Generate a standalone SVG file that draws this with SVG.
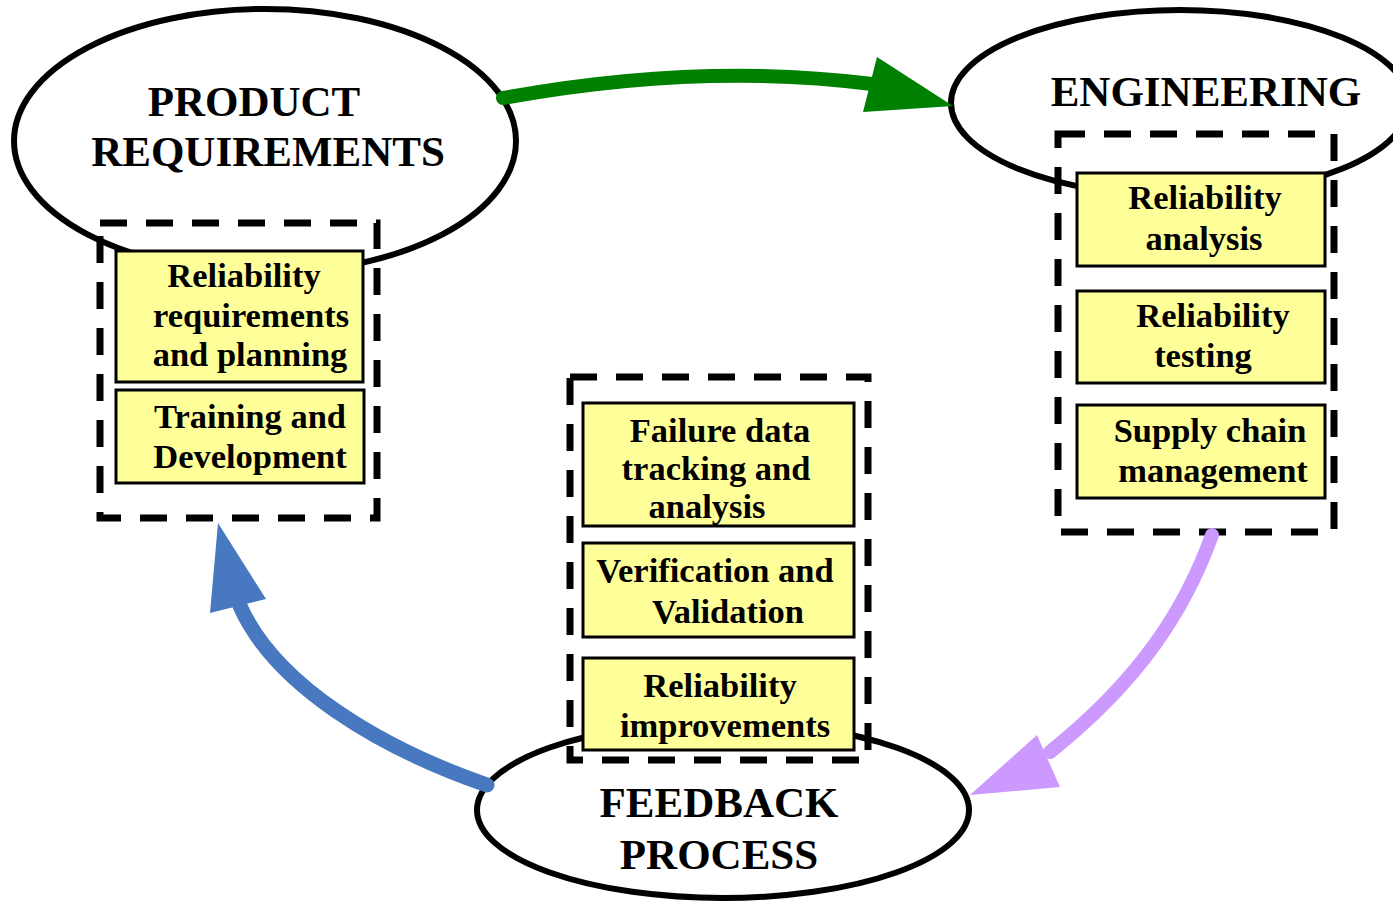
<svg xmlns="http://www.w3.org/2000/svg" width="1393" height="904" viewBox="0 0 1393 904">
<style>
.ell{fill:#fff;stroke:#000;stroke-width:6}
.big{font-family:"Liberation Serif","Times New Roman",serif;font-weight:bold;font-size:43px;fill:#000;text-anchor:middle}
.dash{fill:none;stroke:#000;stroke-width:7;stroke-dasharray:27 19}
.box{fill:#FFFF99;stroke:#000;stroke-width:3}
.lbl{font-family:"Liberation Serif","Times New Roman",serif;font-weight:bold;font-size:34.5px;fill:#000;text-anchor:middle}
.conn{fill:none;stroke-linecap:round}
</style>
<rect width="1393" height="904" fill="#fff"/>

<g id="product-requirements">
  <ellipse class="ell" cx="265" cy="141" rx="251" ry="132"/>
  <text class="big" x="254" y="116">PRODUCT</text>
  <text class="big" x="268" y="166">REQUIREMENTS</text>
  <rect class="dash" x="100" y="223" width="277" height="295"/>
  <g id="box-req-planning">
    <rect class="box" x="116" y="251" width="247" height="131"/>
    <text class="lbl" x="244" y="287">Reliability</text>
    <text class="lbl" x="251" y="327">requirements</text>
    <text class="lbl" x="250" y="366">and planning</text>
  </g>
  <g id="box-training">
    <rect class="box" x="116" y="390" width="248" height="93"/>
    <text class="lbl" x="250" y="428">Training and</text>
    <text class="lbl" x="250" y="468">Development</text>
  </g>
</g>

<g id="engineering">
  <ellipse class="ell" cx="1180" cy="103" rx="229" ry="93"/>
  <text class="big" x="1206" y="106">ENGINEERING</text>
  <rect class="dash" x="1058" y="134" width="276" height="398"/>
  <g id="box-rel-analysis">
    <rect class="box" x="1077" y="173" width="248" height="93"/>
    <text class="lbl" x="1205" y="209">Reliability</text>
    <text class="lbl" x="1204" y="250">analysis</text>
  </g>
  <g id="box-rel-testing">
    <rect class="box" x="1077" y="291" width="248" height="92"/>
    <text class="lbl" x="1213" y="327">Reliability</text>
    <text class="lbl" x="1203" y="367">testing</text>
  </g>
  <g id="box-supply-chain">
    <rect class="box" x="1077" y="405" width="248" height="93"/>
    <text class="lbl" x="1210" y="442">Supply chain</text>
    <text class="lbl" x="1213" y="482">management</text>
  </g>
</g>

<g id="feedback-process">
  <ellipse class="ell" cx="723" cy="810" rx="246" ry="88"/>
  <text class="big" x="719" y="817">FEEDBACK</text>
  <text class="big" x="719" y="869">PROCESS</text>
  <rect class="dash" x="570" y="377" width="298" height="383"/>
  <g id="box-failure-data">
    <rect class="box" x="583" y="403" width="271" height="123"/>
    <text class="lbl" x="720" y="442">Failure data</text>
    <text class="lbl" x="716" y="480">tracking and</text>
    <text class="lbl" x="707" y="518">analysis</text>
  </g>
  <g id="box-verification">
    <rect class="box" x="583" y="543" width="271" height="94"/>
    <text class="lbl" x="715" y="582">Verification and</text>
    <text class="lbl" x="728" y="623">Validation</text>
  </g>
  <g id="box-improvements">
    <rect class="box" x="583" y="658" width="271" height="92"/>
    <text class="lbl" x="720" y="697">Reliability</text>
    <text class="lbl" x="725" y="737">improvements</text>
  </g>
</g>

<g id="connectors">
  <path class="conn" d="M503,98 Q700,62 872,84" stroke="#008000" stroke-width="14"/>
  <polygon points="953,106 877,57 863,112" fill="#008000"/>
  <path class="conn" d="M487,785 C380,748 275,685 240,606" stroke="#4878C0" stroke-width="15"/>
  <polygon points="218,523 210,613 266,599" fill="#4878C0"/>
  <path class="conn" d="M1212,535 C1185,610 1140,680 1050,752" stroke="#CC99FF" stroke-width="14"/>
  <polygon points="970,795 1037,735 1060,787" fill="#CC99FF"/>
</g>
</svg>
